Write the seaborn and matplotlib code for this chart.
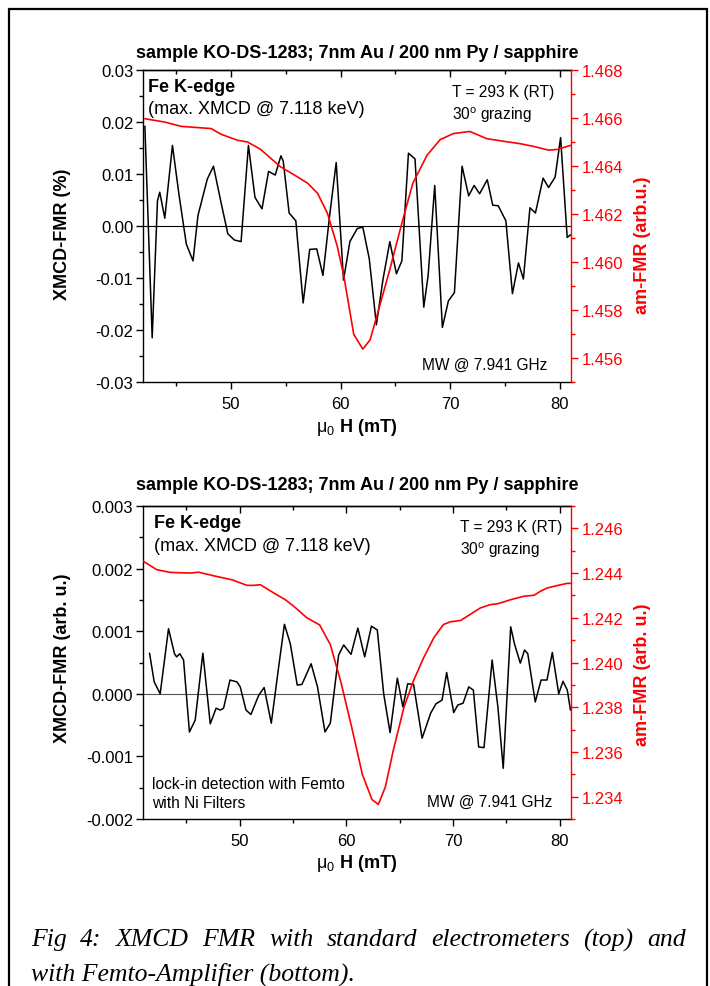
import matplotlib
matplotlib.use("Agg")
import numpy as np
import pandas as pd
import matplotlib.pyplot as plt
import seaborn as sns
from matplotlib.ticker import MultipleLocator, FormatStrFormatter
from matplotlib.patches import Rectangle

# ---------------- data ----------------
title_text = "sample KO-DS-1283; 7nm Au / 200 nm Py / sapphire"

top_field_xmcd = [42.12, 42.79, 43.27, 43.48, 43.94, 44.64, 45.24, 45.91, 46.52, 46.97,
                  47.82, 48.39, 49.03, 49.70, 50.30, 50.91, 51.58, 52.18, 52.82, 53.42,
                  54.03, 54.55, 54.76, 55.30, 55.91, 56.58, 57.18, 57.82, 58.39, 59.00,
                  59.60, 60.27, 60.85, 61.52, 62.03, 62.62, 63.27, 63.88, 64.50, 65.10,
                  65.60, 66.20, 66.80, 67.60, 68.00, 68.60, 69.30, 69.85, 70.40, 71.10,
                  71.70, 72.20, 72.70, 73.40, 73.90, 74.40, 75.10, 75.70, 76.25, 76.70,
                  77.30, 77.80, 78.50, 79.00, 79.60, 80.10, 80.70, 81.00]
top_xmcd = [0.0192, -0.0215, 0.0048, 0.0065, 0.0015, 0.0155, 0.0060, -0.0035, -0.0067, 0.0020,
            0.0090, 0.0115, 0.0050, -0.0015, -0.0027, -0.0030, 0.0155, 0.0055, 0.0033, 0.0105,
            0.0098, 0.0135, 0.0125, 0.0025, 0.0010, -0.0148, -0.0045, -0.0044, -0.0095, 0.0020,
            0.0122, -0.0104, -0.0030, -0.0005, -0.0002, -0.0063, -0.0190, -0.0102, -0.0030, -0.0092,
            -0.0067, 0.0140, 0.0129, -0.0156, -0.0095, 0.0078, -0.0195, -0.0144, -0.0128, 0.0115,
            0.0058, 0.0078, 0.0062, 0.0089, 0.0040, 0.0039, 0.0010, -0.0130, -0.0071, -0.0102,
            0.0035, 0.0025, 0.0092, 0.0074, 0.0094, 0.0170, -0.0022, -0.0017]

top_field_fmr = [42.12, 43.94, 45.45, 46.36, 48.18, 49.09, 50.60, 51.50, 52.70, 54.50,
                 55.80, 57.00, 57.90, 58.80, 59.70, 60.30, 61.20, 62.03, 62.70, 63.40,
                 64.50, 65.60, 66.60, 67.90, 69.10, 70.30, 71.80, 73.35, 74.90, 76.40,
                 77.60, 79.00, 79.80, 81.00]
top_fmr = [1.46597, 1.46583, 1.46565, 1.46562, 1.46556, 1.46532, 1.46507, 1.46500, 1.46469, 1.46397,
           1.46362, 1.46328, 1.46286, 1.46203, 1.46065, 1.45941, 1.45699, 1.45637, 1.45676, 1.45789,
           1.45969, 1.46162, 1.46328, 1.46445, 1.46510, 1.46535, 1.46544, 1.46514, 1.46503, 1.46493,
           1.46482, 1.46466, 1.46469, 1.46486]

bot_field_xmcd = [41.56, 42.00, 42.56, 43.34, 43.90, 44.10, 44.40, 44.75, 45.30, 45.84,
                  46.56, 47.25, 47.80, 48.20, 48.50, 49.10, 49.75, 50.06, 50.60, 51.06,
                  51.80, 52.30, 52.97, 53.66, 54.20, 54.75, 55.40, 55.84, 56.70, 57.30,
                  58.00, 58.50, 59.28, 59.75, 60.44, 61.08, 61.72, 62.35, 62.90, 63.50,
                  64.10, 64.78, 65.30, 65.75, 66.30, 67.10, 67.90, 68.40, 68.97, 69.40,
                  70.06, 70.44, 70.94, 71.47, 71.90, 72.40, 72.90, 73.66, 74.20, 74.70,
                  75.40, 75.75, 76.30, 76.70, 77.00, 77.70, 78.25, 78.80, 79.30, 79.90,
                  80.30, 80.70, 81.00]
bot_xmcd = [0.00065, 0.00019, 0.00000, 0.00104, 0.00064, 0.00059, 0.00064, 0.00054, -0.00061, -0.00042,
            0.00065, -0.00048, -0.00023, -0.00026, -0.00023, 0.00022, 0.00019, 0.00011, -0.00026, -0.00033,
            -0.00002, 0.00010, -0.00047, 0.00043, 0.00111, 0.00080, 0.00014, 0.00015, 0.00048, 0.00011,
            -0.00061, -0.00047, 0.00062, 0.00078, 0.00063, 0.00105, 0.00059, 0.00108, 0.00102, 0.00000,
            -0.00062, 0.00025, -0.00021, 0.00016, 0.00015, -0.00071, -0.00031, -0.00016, -0.00010, 0.00034,
            -0.00030, -0.00018, -0.00015, 0.00011, 0.00006, -0.00085, -0.00086, 0.00054, -0.00021, -0.00119,
            0.00107, 0.00080, 0.00049, 0.00070, 0.00064, -0.00013, 0.00022, 0.00022, 0.00066, 0.00000,
            0.00020, 0.00006, -0.00026]

bot_field_fmr = [41.00, 42.25, 43.50, 45.40, 46.16, 47.56, 49.28, 50.70, 51.30, 51.94,
                 53.20, 54.28, 55.06, 56.30, 57.50, 58.50, 59.50, 60.50, 61.50, 62.40,
                 63.00, 63.66, 64.40, 65.40, 66.30, 67.25, 68.20, 69.10, 69.75, 70.70,
                 71.60, 72.56, 73.50, 74.10, 74.75, 75.40, 76.60, 77.60, 78.20, 78.80,
                 79.75, 80.70, 81.00]
bot_fmr = [1.24452, 1.24415, 1.24403, 1.24400, 1.24404, 1.24388, 1.24370, 1.24345, 1.24345, 1.24348,
           1.24311, 1.24281, 1.24252, 1.24200, 1.24168, 1.24080, 1.23911, 1.23711, 1.23500, 1.23387,
           1.23365, 1.23444, 1.23607, 1.23800, 1.23919, 1.24022, 1.24111, 1.24170, 1.24182, 1.24188,
           1.24215, 1.24244, 1.24259, 1.24262, 1.24271, 1.24281, 1.24296, 1.24301, 1.24319, 1.24333,
           1.24344, 1.24354, 1.24354]

caption_line1 = "Fig 4: XMCD FMR with standard electrometers (top) and"
caption_line2 = "with Femto-Amplifier (bottom)."

# ---------------- style ----------------
sns.set_theme(style="ticks")
plt.rcParams.update({
    "font.family": ["Liberation Sans", "DejaVu Sans"],
    "axes.unicode_minus": False,
    "mathtext.fontset": "custom",
    "mathtext.rm": "Liberation Sans",
    "mathtext.it": "Liberation Sans:italic",
    "mathtext.bf": "Liberation Sans:bold",
    "axes.linewidth": 1.0,
    "axes.edgecolor": "black",
    "text.color": "black",
    "axes.labelcolor": "black",
    "xtick.color": "black",
    "ytick.color": "black",
    "axes.titlecolor": "black",
})

W, H = 710, 987
fig = plt.figure(figsize=(W / 100, H / 100), dpi=100)


def fx(x):
    return x / W


def fy(y):
    return 1 - y / H


def make_panel(top_px, bot_px, fld_x, val_x, fld_r, val_r, xlim, ylim, ymaj, ymin, yfmt,
               rlim, rmaj, rmin, ylabel, rlabel, title_pad, ylab_y, rlab_y, zero_color):
    ax = fig.add_axes([fx(143), fy(bot_px), fx(571) - fx(143), (bot_px - top_px) / H])
    ax.set_facecolor("none")
    df_x = pd.DataFrame({"field": fld_x, "value": val_x})
    df_r = pd.DataFrame({"field": fld_r, "value": val_r})
    ax.axhline(0, color=zero_color, lw=0.8, zorder=1)
    sns.lineplot(data=df_x, x="field", y="value", ax=ax, color="black", lw=1.1,
                 estimator=None, sort=False, zorder=3)
    ax.set_xlim(*xlim)
    ax.set_ylim(*ylim)
    ax.xaxis.set_major_locator(MultipleLocator(10))
    ax.xaxis.set_minor_locator(MultipleLocator(5))
    ax.yaxis.set_major_locator(MultipleLocator(ymaj))
    ax.yaxis.set_minor_locator(MultipleLocator(ymin))
    ax.yaxis.set_major_formatter(FormatStrFormatter(yfmt))
    ax.tick_params(axis="both", which="major", direction="out", length=5, width=1,
                   labelsize=12, color="black", labelcolor="black")
    ax.tick_params(axis="both", which="minor", direction="out", length=3, width=1, color="black")
    ax.tick_params(axis="x", which="major", pad=5)
    ax.tick_params(axis="y", which="major", pad=2)
    for s in ["top", "bottom", "left"]:
        ax.spines[s].set_visible(True)
        ax.spines[s].set_color("black")
    ax.spines["right"].set_visible(False)

    sec = ax.secondary_xaxis("top")
    sec.xaxis.set_major_locator(MultipleLocator(10))
    sec.xaxis.set_minor_locator(MultipleLocator(5))
    sec.tick_params(axis="x", which="major", direction="in", length=5, width=1, labeltop=False)
    sec.tick_params(axis="x", which="minor", direction="in", length=3, width=1)

    ax.set_xlabel(r"$\mathrm{\mu_0}$ H (mT)", fontsize=13, fontweight="bold", va="center",
                  color="black")
    ax.xaxis.set_label_coords(0.5, -(44 / (bot_px - top_px)))
    ax.set_ylabel(ylabel, fontsize=13, fontweight="bold", va="center", color="black")
    ax.yaxis.set_label_coords(-0.189, ylab_y)
    ax.set_title(title_text, fontsize=13, fontweight="bold", pad=title_pad, color="black")

    ax2 = ax.twinx()
    ax2.set_facecolor("none")
    sns.lineplot(data=df_r, x="field", y="value", ax=ax2, color="#ff0000", lw=1.2,
                 estimator=None, sort=False, zorder=2)
    ax2.set_ylim(*rlim)
    ax2.set_xlim(*xlim)
    ax2.yaxis.set_major_locator(MultipleLocator(rmaj))
    ax2.yaxis.set_minor_locator(MultipleLocator(rmin))
    ax2.yaxis.set_major_formatter(FormatStrFormatter("%.3f"))
    ax2.tick_params(axis="y", which="major", direction="out", length=5, width=1,
                    color="red", labelcolor="red", labelsize=12, pad=3)
    ax2.tick_params(axis="y", which="minor", direction="out", length=3, width=1, color="red")
    for s in ["top", "bottom", "left"]:
        ax2.spines[s].set_visible(False)
    ax2.spines["right"].set_visible(True)
    ax2.spines["right"].set_color("red")
    ax2.set_ylabel(rlabel, fontsize=13, fontweight="bold", color="red", va="center")
    ax2.yaxis.set_label_coords(1.166, rlab_y)
    ax2.set_xlabel("")
    return ax, ax2


make_panel(71, 383, top_field_xmcd, top_xmcd, top_field_fmr, top_fmr,
           (41.95, 81.05), (-0.03, 0.03), 0.01, 0.005, "%.2f",
           (1.455, 1.468), 0.002, 0.001, "XMCD-FMR (%)", "am-FMR (arb.u.)",
           9, 0.478, 0.442, "black")

make_panel(507, 820, bot_field_xmcd, bot_xmcd, bot_field_fmr, bot_fmr,
           (40.95, 81.05), (-0.002, 0.003), 0.001, 0.0005, "%.3f",
           (1.233, 1.247), 0.002, 0.001, "XMCD-FMR (arb. u.)", "am-FMR (arb. u.)",
           12, 0.518, 0.463, "#555555")

# ---------------- annotations ----------------
def label(x, y, s, **kw):
    fig.text(fx(x), fy(y), s, va="center", ha="left", color="black", **kw)

label(148, 88, "Fe K-edge", fontsize=13, fontweight="bold")
label(148, 110, "(max. XMCD @ 7.118 keV)", fontsize=13)
label(452, 93, "T = 293 K (RT)", fontsize=11.2)
label(452, 115, r"30$^{\mathrm{o}}$ grazing", fontsize=11.2)
label(422, 365, "MW @ 7.941 GHz", fontsize=11.2)

label(154, 524, "Fe K-edge", fontsize=13, fontweight="bold")
label(154, 547, "(max. XMCD @ 7.118 keV)", fontsize=13)
label(460, 528, "T = 293 K (RT)", fontsize=11.2)
label(460, 550, r"30$^{\mathrm{o}}$ grazing", fontsize=11.2)
label(152, 785, "lock-in detection with Femto", fontsize=11.2)
label(152, 803, "with Ni Filters", fontsize=11.2)
label(427, 802, "MW @ 7.941 GHz", fontsize=11.2)

# caption (justified first line)
cap_font = dict(fontsize=18.5, fontstyle="italic", family=["Liberation Serif", "DejaVu Serif"],
                color="black")
fig.canvas.draw()
renderer = fig.canvas.get_renderer()
words = caption_line1.split(" ")
widths = []
for w_ in words:
    t = fig.text(0, 0, w_, **cap_font)
    bb = t.get_window_extent(renderer=renderer)
    widths.append(bb.width)
    t.remove()
x0, x1 = 31, 686
gap = (x1 - x0 - sum(widths)) / (len(words) - 1)
xc = x0
for w_, wd in zip(words, widths):
    fig.text(fx(xc), fy(940), w_, va="center", ha="left", **cap_font)
    xc += wd + gap
fig.text(fx(31), fy(974), caption_line2, va="center", ha="left", **cap_font)

# outer frame
fig.patches.append(Rectangle((fx(9), -0.05), fx(707) - fx(9), fy(10) + 0.05,
                             transform=fig.transFigure, fill=False, lw=1.6,
                             edgecolor="black", clip_on=False))

fig.savefig("out.png", dpi=100)
